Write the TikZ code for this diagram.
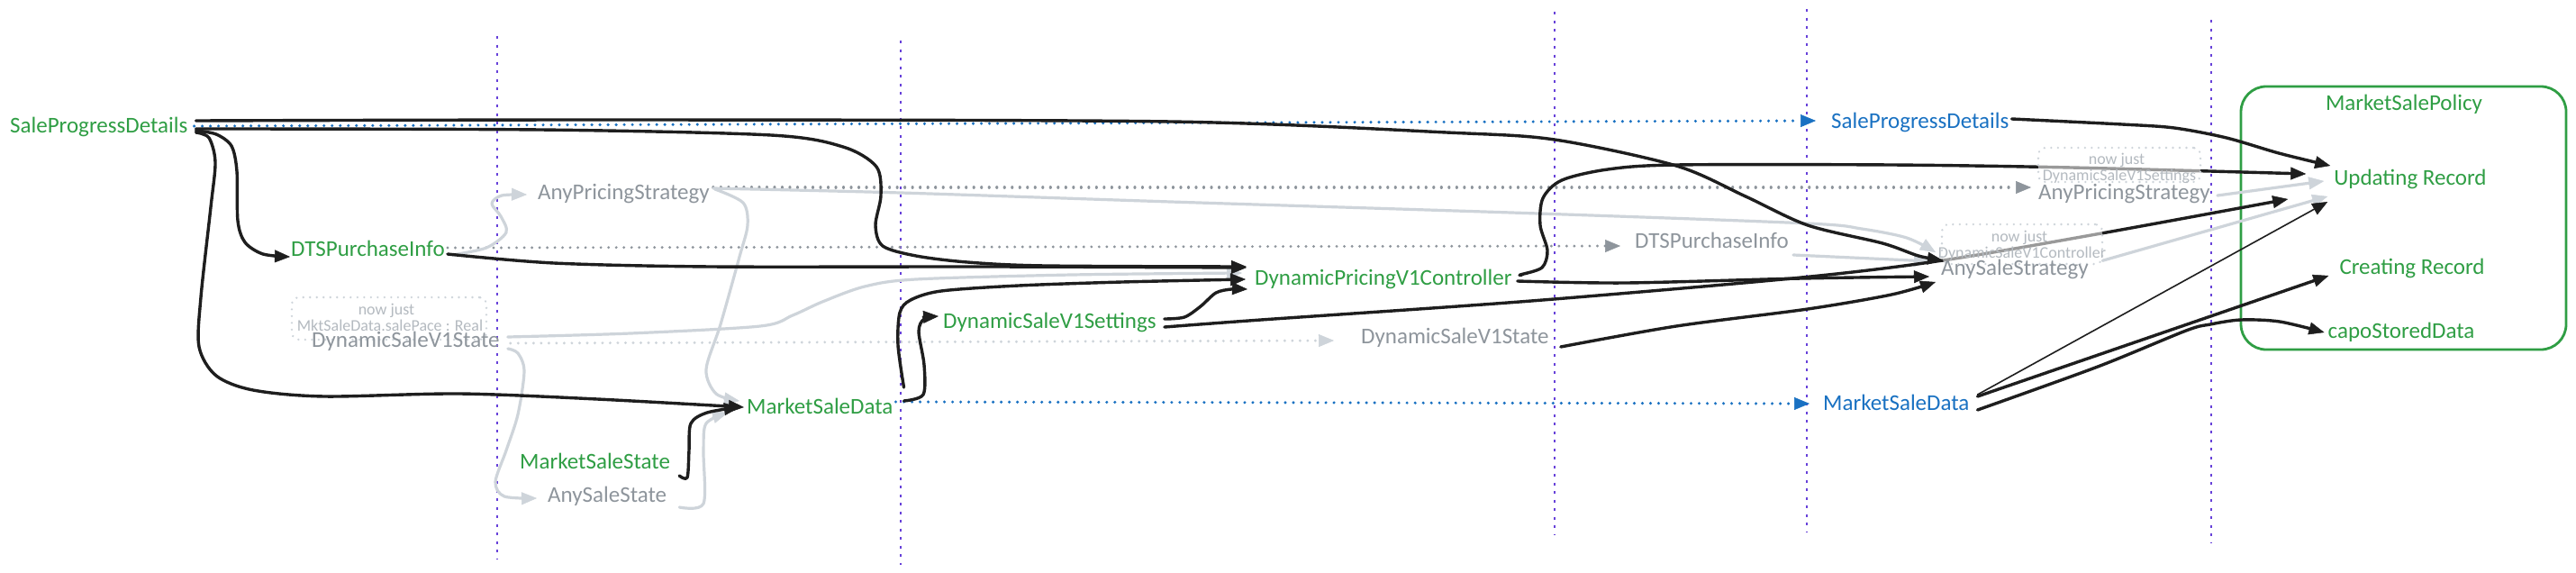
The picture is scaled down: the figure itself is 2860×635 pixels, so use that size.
\documentclass[tikz,border=0pt]{standalone}
\usepackage{fontspec}
\setmainfont{Carlito}
\usetikzlibrary{arrows.meta,calc}
\pgfdeclarelayer{bg}
\pgfdeclarelayer{mid}
\pgfsetlayers{bg,mid,main}
\definecolor{cgreen}{HTML}{2F9E44}
\definecolor{cblue}{HTML}{1971C2}
\definecolor{cblack}{HTML}{1E1E1E}
\definecolor{clgray}{HTML}{CED4DA}
\definecolor{cmgray}{HTML}{8E959C}
\definecolor{cngray}{HTML}{B4BAC0}
\definecolor{cpurple}{HTML}{6741D9}
\tikzset{
 lab/.style={font=\fontsize{25}{28}\selectfont, inner sep=2pt, text height=16pt, text depth=5pt, anchor=base west},
 grn/.style={lab, text=cgreen},
 blu/.style={lab, text=cblue},
 gry/.style={lab, text=cmgray},
 notebox/.style={draw=clgray, line width=2.6pt, dash pattern=on 0.01pt off 7.5pt, line cap=round, rounded corners=8pt, fill=white, fill opacity=0.55, inner sep=0pt},
 notetext/.style={font=\fontsize{18}{20}\selectfont, text=cngray, inner sep=0pt, anchor=base},
 arr/.style={-{Triangle[length=17pt,width=14pt,line width=0.5pt]}},
 blk/.style={draw=cblack, line width=3.4pt, arr, line cap=round, line join=round},
 thinblk/.style={draw=cblack, line width=1.6pt, arr, line cap=round},
 lg/.style={draw=clgray, line width=3.2pt, arr, line cap=round, line join=round},
 bluedot/.style={draw=cblue, line width=3.4pt, line cap=round, dash pattern=on 0.01pt off 9pt, arr},
 grydot/.style={draw=cmgray, line width=3.2pt, line cap=round, dash pattern=on 0.01pt off 8.5pt, arr},
 lgdot/.style={draw=clgray, line width=3.2pt, line cap=round, dash pattern=on 0.01pt off 8.5pt, arr},
 purp/.style={draw=cpurple, line width=2.6pt, dash pattern=on 3pt off 6.5pt},
 sm/.style={smooth, tension=0.5}
}
\begin{document}
\begin{tikzpicture}[x=1pt,y=-1pt]
\useasboundingbox (0,0) rectangle (2860,635);
% ---------- labels ----------
\node[grn] (spdL) at (9,147) {SaleProgressDetails};
\node[grn] (dtsL) at (321,284) {DTSPurchaseInfo};
\node[gry] (apsL) at (595,221) {AnyPricingStrategy};
\node[gry] (dsv1sL) at (344,385) {DynamicSaleV1State};
\node[grn] (mssL) at (575,520) {MarketSaleState};
\node[gry] (assL) at (606,557) {AnySaleState};
\node[grn] (msdL) at (827,459) {MarketSaleData};
\node[grn] (dsset) at (1045,364) {DynamicSaleV1Settings};
\node[grn] (dpc) at (1391,316) {DynamicPricingV1Controller};
\node[gry] (dsv1sM) at (1509,381) {DynamicSaleV1State};
\node[gry] (dtsR) at (1813,275) {DTSPurchaseInfo};
\node[blu] (spdR) at (2031,142) {SaleProgressDetails};
\node[blu] (msdR) at (2022,455) {MarketSaleData};
\node[gry] (apsR) at (2261,221) {AnyPricingStrategy};
\node[gry] (assR) at (2153,305) {AnySaleStrategy};
\node[grn, anchor=base] (ttl) at (2669,122) {MarketSalePolicy};
\node[grn, anchor=base] (ur) at (2676,205) {Updating Record};
\node[grn, anchor=base] (cr) at (2678,304) {Creating Record};
\node[grn, anchor=base] (csd) at (2666,375) {capoStoredData};
% ---------- notes ----------
\begin{pgfonlayer}{mid}
\node[notebox, minimum width=216pt, minimum height=47pt] (n1) at (432,353.5) {};
\node[notebox, minimum width=180pt, minimum height=38pt] (n2) at (2353,183) {};
\node[notebox, minimum width=178pt, minimum height=44pt] (n3) at (2245,271) {};
\end{pgfonlayer}
\node[notetext] (n1a) at (429,349) {now just};
\node[notetext] (n1b) at (433,367) {MktSaleData.salePace : Real};
\node[notetext] (n2a) at (2350,182) {now just};
\node[notetext] (n2b) at (2353,200) {DynamicSaleV1Settings};
\node[notetext] (n3a) at (2242,268) {now just};
\node[notetext] (n3b) at (2245,286) {DynamicSaleV1Controller};
% ---------- connector end points ----------
\coordinate (s2) at ($(spdL.east)+(7,-7.5)$);  \coordinate (e2) at ($(assR.west)+(4,-10.5)$);
\coordinate (s3) at ($(spdL.east)+(7,1.5)$);   \coordinate (e3) at ($(dpc.west)+(-7,-14.5)$);
\coordinate (s4) at ($(spdL.east)+(7,3.5)$);   \coordinate (e4) at ($(dtsL.west)+(1,6.5)$);
\coordinate (s5) at ($(spdL.east)+(7,5.5)$);   \coordinate (e5) at ($(msdL.west)+(-1,-1.5)$);
\coordinate (s6) at ($(dtsL.east)+(1,3.5)$);   \coordinate (e6) at ($(dpc.west)+(-7,-13.5)$);
\coordinate (s8) at ($(dtsL.east)+(6,4.5)$);   \coordinate (e8) at ($(apsL.west)+(-10,0.5)$);
\coordinate (s10) at ($(apsL.east)+(2,-6.5)$); \coordinate (e10) at ($(assR.west)+(-4,-19.5)$);
\coordinate (s11) at ($(apsL.east)+(4,-5.5)$); \coordinate (e11) at ($(msdL.west)+(-6,-8.5)$);
\coordinate (s12) at ($(dsv1sL.east)+(7,-5.5)$); \coordinate (e12) at ($(dpc.west)+(-12,-7.5)$);
\coordinate (s14) at ($(dsv1sL.east)+(7,7.5)$);  \coordinate (e14) at ($(assL.west)+(-10,1.5)$);
\coordinate (s15) at ($(mssL.east)+(8,13.5)$);   \coordinate (e15) at ($(msdL.west)+(-6,-1.5)$);
\coordinate (s16) at ($(assL.east)+(12,11.5)$);  \coordinate (e16) at ($(msdL.west)+(-19,4.5)$);
\coordinate (s17) at ($(msdL.east)+(10,-23.5)$); \coordinate (e17) at ($(dpc.west)+(-8,-0.5)$);
\coordinate (s18) at ($(msdL.east)+(10,-8.5)$);  \coordinate (e18) at ($(dsset.west)+(-3,-7.5)$);
\coordinate (s20) at ($(dsset.east)+(7,-4.5)$);  \coordinate (e20) at ($(dpc.west)+(-6,10.5)$);
\coordinate (s21) at ($(dsset.east)+(7,4.5)$);   \coordinate (e21) at ($(ur.west)+(-49,21.5)$);
\coordinate (s22) at ($(dpc.east)+(4,1.5)$);     \coordinate (e22) at ($(assR.west)+(-11,7.5)$);
\coordinate (s23) at ($(dpc.east)+(9,-5.5)$);    \coordinate (e23) at ($(ur.west)+(-29,-6.5)$);
\coordinate (s24) at ($(dsv1sM.east)+(11,9.5)$); \coordinate (e24) at ($(assR.west)+(-4,13.5)$);
\coordinate (s25) at ($(dtsR.east)+(3,13.5)$);   \coordinate (e25) at ($(assR.west)+(-11,-9.5)$);
\coordinate (s28) at ($(spdR.east)+(1,-4.5)$);   \coordinate (e28) at ($(ur.west)+(-2,-15.5)$);
\coordinate (s31) at ($(msdR.east)+(7,5.5)$);    \coordinate (e31) at ($(csd.west)+(-2,-0.5)$);
% ---------- background drawing ----------
\begin{pgfonlayer}{bg}
\fill[white] (0,0) rectangle (2860,635);
\draw[purp] (552,40) -- (552,620);
\draw[purp] (1000,45) -- (1000,627);
\draw[purp] (1726,13) -- (1726,593);
\draw[purp] (2006,10) -- (2006,590);
\draw[purp] (2455,22) -- (2455,602);
\node[draw=cgreen, line width=2.8pt, rounded corners=28pt, minimum width=361pt, minimum height=292pt, inner sep=0pt] (grp) at (2668.5,242) {};
% dotted
\draw[bluedot] ($(spdL.east)+(5,-1.5)$) -- ($(spdR.west)+(-15,-2.5)$);
\draw[bluedot] ($(msdL.east)+(1,-7.5)$) -- ($(msdR.west)+(-13,-1.5)$);
\draw[grydot] ($(dtsL.east)+(1,-3.5)$) -- ($(dtsR.west)+(-14,3.5)$);
\draw[grydot] ($(apsL.east)+(2,-7.5)$) -- ($(apsR.west)+(-6,-7.5)$);
\draw[lgdot] ($(dsv1sL.east)+(10,1.5)$) -- ($(dsv1sM.west)+(-28,2.5)$);
% light gray
\draw[lg] plot[sm] coordinates {(s8) (540,275) (562,258) (556,240) (546,226) (557,217) (e8)};
\draw[lg] plot[sm] coordinates {(s10) (1000,214) (1300,224) (1708,237) (2007,248) (2067,254) (2117,264) (e10)};
\draw[lg] plot[sm] coordinates {(s11) (825,225) (830,250) (821,285) (800,360) (784,410) (795,437) (e11)};
\draw[lg] plot[sm] coordinates {(s12) (700,370) (844,362) (880,350) (913,335) (960,318) (1017,310) (1190,305) (e12)};
\draw[lg] plot[sm] coordinates {(s14) (575,392) (582,412) (575,460) (562,500) (550,535) (560,551) (e14)};
\draw[lg] plot[sm] coordinates {(s16) (781,559) (781,500) (784,470) (e16)};
\draw[lg] plot[sm] coordinates {(s25) (2100,288) (e25)};
\draw[lg] ($(n3.south east)+(-1,-5)$) -- ($(ur.west)+(-5,18.5)$);
\draw[lg] ($(apsR.east)+(6,1.5)$) -- ($(ur.west)+(-9,1.5)$);
% black
\draw[blk] plot[sm] coordinates {(s2) (700,133) (1300,135) (1606,147) (1726,155) (1861,184) (1938,218) (2007,250) (2090,270) (2130,284) (e2)};
\draw[blk] plot[sm] coordinates {(s3) (600,144) (856,150) (936,163) (973,185) (978,217) (972,250) (980,273) (1017,284) (1074,291) (1160,295) (e3)};
\draw[blk] plot[sm] coordinates {(s4) (240,149) (257,162) (263,190) (264,245) (272,269) (292,282) (e4)};
\draw[blk] plot[sm] coordinates {(s5) (232,153) (239,180) (234,230) (223,330) (221,385) (240,417) (281,433) (360,440) (510,437) (663,443) (e5)};
\draw[blk] plot[sm] coordinates {(s6) (615,292) (790,296) (1100,296) (e6)};
\draw[blk] plot[sm] coordinates {(s15) (763,530) (765,500) (767,470) (785,458) (e15)};
\draw[blk] plot[sm] coordinates {(s17) (997,383) (999,347) (1011,333) (1045,323) (1131,317) (1246,313) (e17)};
\draw[blk] plot[sm] coordinates {(s18) (1025,438) (1026,405) (1020,368) (1026,354) (e18)};
\draw[blk] plot[sm] coordinates {(s20) (1315,352) (1333,340) (1350,325) (1367,321) (e20)};
\draw[blk] plot[sm] coordinates {(s21) (1400,355) (1700,334) (2000,308) (2157,289) (2333,259) (e21)};
\draw[blk] plot[sm] coordinates {(s22) (1805,314) (2000,309) (e22)};
\draw[blk] plot[sm] coordinates {(s23) (1688,305) (1712,297) (1718,278) (1710,250) (1713,220) (1734,200) (1785,188) (1861,183) (2100,183) (2300,186) (e23)};
\draw[blk] plot[sm] coordinates {(s24) (1861,362) (2007,343) (2100,327) (e24)};
\draw[blk] plot[sm] coordinates {(s28) (2356,138) (2414,142) (2472,153) (2530,170) (e28)};
\draw[thinblk] ($(msdR.east)+(7,-11.5)$) -- ($(ur.west)+(-5,24.5)$);
\draw[blk] ($(msdR.east)+(7,-9.5)$) -- ($(cr.west)+(-10,7.5)$);
\draw[blk] plot[sm] coordinates {(s31) (2329,407) (2427,367) (2454,360) (2488,355) (2531,357) (e31)};
\end{pgfonlayer}
\end{tikzpicture}
\end{document}
